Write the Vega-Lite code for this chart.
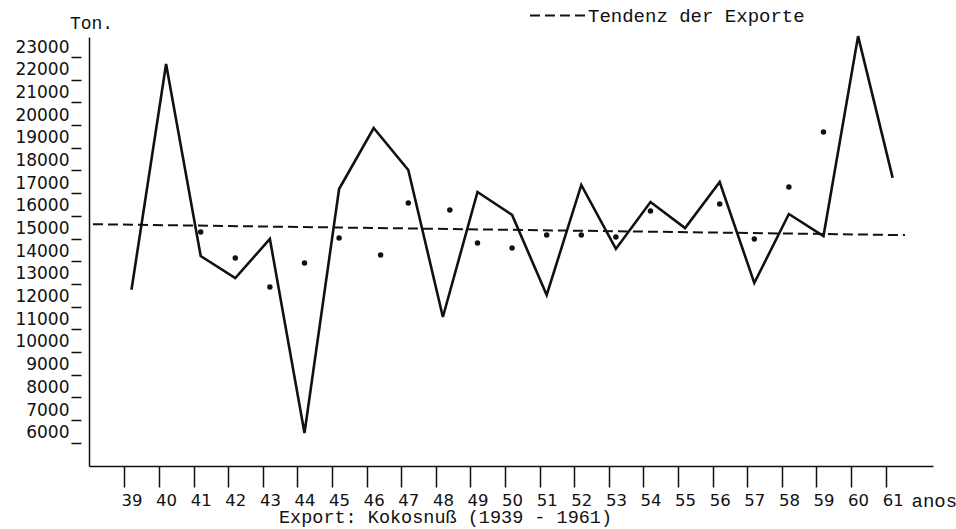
{
  "$schema": "https://vega.github.io/schema/vega-lite/v6.json",
  "width": 844,
  "height": 429,
  "autosize": {"type": "none"},
  "padding": {"left": 89, "top": 37, "right": 23, "bottom": 63},
  "background": "white",
  "config": {
    "view": {"stroke": null},
    "axis": {"grid": false, "domainColor": "#111", "tickColor": "#111", "labelColor": "#111", "titleColor": "#111"}
  },
  "title": {"text": "Export: Kokosnuß (1939 - 1961)", "orient": "bottom", "anchor": "start", "frame": "group", "dx": 190, "font": "Liberation Mono", "fontSize": 18.5, "fontWeight": "normal", "color": "#111", "offset": -2},
  "datasets": {
    "exporte": [
      {"jahr": 39, "tonnen": 12300},
      {"jahr": 40, "tonnen": 22250},
      {"jahr": 41, "tonnen": 13790},
      {"jahr": 42, "tonnen": 12820},
      {"jahr": 43, "tonnen": 14540},
      {"jahr": 44, "tonnen": 5990},
      {"jahr": 45, "tonnen": 16740},
      {"jahr": 46, "tonnen": 19430},
      {"jahr": 47, "tonnen": 17580},
      {"jahr": 48, "tonnen": 11100},
      {"jahr": 49, "tonnen": 16610},
      {"jahr": 50, "tonnen": 15600},
      {"jahr": 51, "tonnen": 12070},
      {"jahr": 52, "tonnen": 16920},
      {"jahr": 53, "tonnen": 14100},
      {"jahr": 54, "tonnen": 16170},
      {"jahr": 55, "tonnen": 15020},
      {"jahr": 56, "tonnen": 17050},
      {"jahr": 57, "tonnen": 12600},
      {"jahr": 58, "tonnen": 15640},
      {"jahr": 59, "tonnen": 14670},
      {"jahr": 60, "tonnen": 23480},
      {"jahr": 61, "tonnen": 17230}
    ],
    "punkte": [
      {"jahr": 41, "tonnen": 14850},
      {"jahr": 42, "tonnen": 13700},
      {"jahr": 43, "tonnen": 12420},
      {"jahr": 44, "tonnen": 13480},
      {"jahr": 45, "tonnen": 14580},
      {"jahr": 46.2, "tonnen": 13830},
      {"jahr": 47, "tonnen": 16125},
      {"jahr": 48.2, "tonnen": 15820},
      {"jahr": 49, "tonnen": 14360},
      {"jahr": 50, "tonnen": 14140},
      {"jahr": 51, "tonnen": 14710},
      {"jahr": 52, "tonnen": 14710},
      {"jahr": 53, "tonnen": 14630},
      {"jahr": 54, "tonnen": 15770},
      {"jahr": 56, "tonnen": 16080},
      {"jahr": 57, "tonnen": 14540},
      {"jahr": 58, "tonnen": 16830},
      {"jahr": 59, "tonnen": 19250}
    ],
    "tendenz": [
      {"jahr": 37.887, "tonnen": 15190, "serie": "Tendenz der Exporte"},
      {"jahr": 61.355, "tonnen": 14710, "serie": "Tendenz der Exporte"}
    ]
  },
  "encoding": {
    "x": {
      "field": "jahr", "type": "quantitative", "title": "anos",
      "scale": {"domain": [37.772, 62.165], "nice": false, "zero": false},
      "axis": {
        "values": [39,40,41,42,43,44,45,46,47,48,49,50,51,52,53,54,55,56,57,58,59,60,61],
        "format": "d", "labelFont": "DejaVu Sans", "labelFontSize": 16.5,
        "title": "anos", "titleX": 822, "titleY": 34, "titleAlign": "left", "titleBaseline": "middle",
        "titleFont": "Liberation Mono", "titleFontSize": 19, "titleFontWeight": "normal",
        "tickSize": 21, "tickOffset": -7, "labelOffset": 7, "labelPadding": 5,
        "domainWidth": 1.5, "tickWidth": 1.5, "labelFlush": false, "labelOverlap": false
      }
    },
    "y": {
      "field": "tonnen", "type": "quantitative", "title": "Ton.",
      "scale": {"domain": [4534, 23441], "nice": false, "zero": false},
      "axis": {
        "values": [6000,7000,8000,9000,10000,11000,12000,13000,14000,15000,16000,17000,18000,19000,20000,21000,22000,23000],
        "format": "d", "labelFont": "DejaVu Sans", "labelFontSize": 17,
        "title": "Ton.", "titleAngle": 0, "titleX": 2, "titleY": -14, "titleAlign": "center", "titleBaseline": "middle",
        "titleFont": "Liberation Mono", "titleFontSize": 18, "titleFontWeight": "normal",
        "tickSize": 18, "tickOffset": 10, "labelOffset": -10, "labelPadding": 2, "tickDash": [0, 8, 10, 100],
        "domainWidth": 1.5, "tickWidth": 1.5, "labelFlush": false, "labelOverlap": false
      }
    }
  },
  "layer": [
    {
      "data": {"name": "exporte"},
      "mark": {"type": "line", "color": "#111", "strokeWidth": 2.6, "strokeJoin": "miter"}
    },
    {
      "data": {"name": "punkte"},
      "mark": {"type": "point", "filled": true, "color": "#111", "size": 30, "opacity": 1}
    },
    {
      "data": {"name": "tendenz"},
      "mark": {"type": "line", "color": "#111", "strokeWidth": 2},
      "encoding": {
        "strokeDash": {
          "field": "serie", "type": "nominal",
          "scale": {"domain": ["Tendenz der Exporte"], "range": [[10, 5]]},
          "legend": {
            "orient": "none", "legendX": 440, "legendY": -51, "title": null,
            "symbolType": "stroke", "symbolSize": 3249, "symbolStrokeWidth": 2, "symbolStrokeColor": "#111",
            "symbolDash": [9, 2.5], "labelLimit": 0,
            "labelFont": "Liberation Mono", "labelFontSize": 19, "labelColor": "#111", "labelOffset": 0, "padding": 0
          }
        }
      }
    }
  ]
}
